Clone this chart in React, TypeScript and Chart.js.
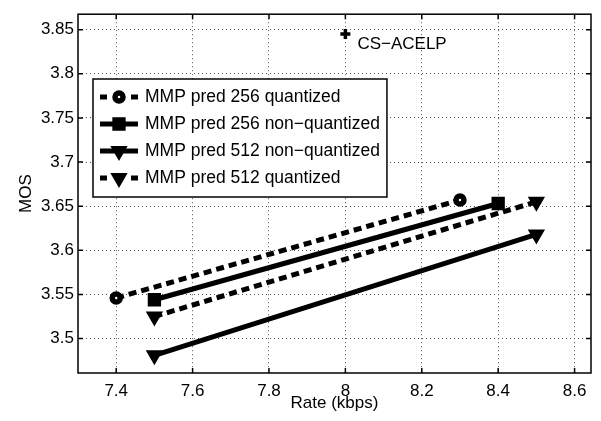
import React, { useEffect, useRef } from 'react';
import { Chart, registerables } from 'chart.js';

Chart.register(...registerables);

const FONT = "'Liberation Sans', Arial, Helvetica, sans-serif";

const xTicks = [7.4, 7.6, 7.8, 8.0, 8.2, 8.4, 8.6];
const yTicks = [3.5, 3.55, 3.6, 3.65, 3.7, 3.75, 3.8, 3.85];

const seriesLabels = [
  'MMP pred 256 quantized',
  'MMP pred 256 non\u2212quantized',
  'MMP pred 512 non\u2212quantized',
  'MMP pred 512 quantized',
];
const rate256q = [7.4, 8.3];
const mos256q = [3.546, 3.657];
const rate256n = [7.5, 8.4];
const mos256n = [3.544, 3.653];
const rate512n = [7.5, 8.5];
const mos512n = [3.481, 3.618];
const rate512q = [7.5, 8.5];
const mos512q = [3.525, 3.655];
const refRate = [8.0];
const refMos = [3.845];
const refLabel = 'CS\u2212ACELP';

type Marker = { style: string; radius: number; bw: number; bg: string; rot: number };
const circleM: Marker = { style: 'circle', radius: 4, bw: 5.5, bg: '#fff', rot: 0 };
const rectM: Marker = { style: 'rect', radius: 8, bw: 2, bg: '#000', rot: 0 };
const triM: Marker = { style: 'triangle', radius: 8, bw: 2, bg: '#000', rot: 180 };
const DASH = [8, 5];

const makeSeries = (label: string, xs: number[], ys: number[], dashed: boolean, m: Marker) => ({
  label,
  data: xs.map((x, i) => ({ x, y: ys[i] })),
  borderColor: '#000',
  backgroundColor: '#000',
  borderWidth: 5,
  borderDash: dashed ? DASH : [],
  showLine: true,
  pointStyle: m.style,
  pointRadius: m.radius,
  pointBorderWidth: m.bw,
  pointBackgroundColor: m.bg,
  pointBorderColor: '#000',
  pointRotation: m.rot,
  _marker: m,
  _dashed: dashed,
});

function drawMarker(ctx: CanvasRenderingContext2D, m: Marker, x: number, y: number) {
  ctx.save();
  ctx.setLineDash([]);
  ctx.lineWidth = m.bw;
  ctx.strokeStyle = '#000';
  ctx.fillStyle = m.bg;
  ctx.beginPath();
  if (m.style === 'circle') {
    ctx.arc(x, y, m.radius, 0, Math.PI * 2);
  } else if (m.style === 'rect') {
    const s = m.radius * Math.SQRT1_2;
    ctx.rect(x - s, y - s, 2 * s, 2 * s);
  } else {
    const r = m.radius;
    ctx.moveTo(x, y + r);
    ctx.lineTo(x - r * Math.sqrt(3) / 2, y - r / 2);
    ctx.lineTo(x + r * Math.sqrt(3) / 2, y - r / 2);
    ctx.closePath();
  }
  ctx.fill();
  ctx.stroke();
  ctx.restore();
}

const framePlugin = {
  id: 'matlabFrame',
  afterDatasetsDraw(chart: any) {
    const { ctx, chartArea, scales } = chart;
    const { left, right, top, bottom } = chartArea;
    const xs = scales.x;
    const ys = scales.y;
    ctx.save();

    // annotation label
    const px = xs.getPixelForValue(refRate[0]);
    const py = ys.getPixelForValue(refMos[0]);
    ctx.font = `17px ${FONT}`;
    ctx.fillStyle = '#000';
    ctx.textBaseline = 'middle';
    ctx.textAlign = 'left';
    ctx.fillText(refLabel, px + 12, py + 10);

    // legend
    const lgLeft = 93;
    const lgTop = 79;
    const rowH = 27;
    const textX = 145;
    const legendSets = chart.data.datasets.slice(0, 4);
    ctx.font = `17.5px ${FONT}`;
    let maxW = 0;
    legendSets.forEach((d: any) => {
      maxW = Math.max(maxW, ctx.measureText(d.label).width);
    });
    const lgRight = textX + maxW + 7;
    const lgBottom = lgTop + rowH * legendSets.length + 10;
    ctx.fillStyle = '#fff';
    ctx.fillRect(lgLeft, lgTop, lgRight - lgLeft, lgBottom - lgTop);
    ctx.strokeStyle = '#000';
    ctx.lineWidth = 1.5;
    ctx.setLineDash([]);
    ctx.strokeRect(lgLeft, lgTop, lgRight - lgLeft, lgBottom - lgTop);
    legendSets.forEach((d: any, i: number) => {
      const ry = lgTop + 18 + rowH * i;
      ctx.save();
      ctx.strokeStyle = '#000';
      ctx.lineWidth = 5;
      ctx.setLineDash([]);
      ctx.beginPath();
      if (d._dashed) {
        ctx.moveTo(100, ry);
        ctx.lineTo(107, ry);
        ctx.moveTo(131, ry);
        ctx.lineTo(138, ry);
      } else {
        ctx.moveTo(100, ry);
        ctx.lineTo(138, ry);
      }
      ctx.stroke();
      ctx.restore();
      drawMarker(ctx, d._marker, 119, ry);
      ctx.fillStyle = '#000';
      ctx.font = `17.5px ${FONT}`;
      ctx.textBaseline = 'middle';
      ctx.textAlign = 'left';
      ctx.fillText(d.label, textX, ry);
    });

    // frame
    ctx.strokeStyle = '#000';
    ctx.lineWidth = 1.5;
    ctx.setLineDash([]);
    ctx.strokeRect(left, top, right - left, bottom - top);
    ctx.beginPath();
    xTicks.forEach((v) => {
      const p = xs.getPixelForValue(v);
      ctx.moveTo(p, bottom);
      ctx.lineTo(p, bottom - 5);
      ctx.moveTo(p, top);
      ctx.lineTo(p, top + 5);
    });
    yTicks.forEach((v) => {
      const p = ys.getPixelForValue(v);
      ctx.moveTo(left, p);
      ctx.lineTo(left + 5, p);
      ctx.moveTo(right, p);
      ctx.lineTo(right - 5, p);
    });
    ctx.stroke();
    ctx.restore();
  },
};

const fmt = (v: any) => String(+(+v).toFixed(2));

export default function App() {
  const ref = useRef<HTMLCanvasElement | null>(null);
  useEffect(() => {
    if (!ref.current) return;
    const font = { family: FONT, size: 17 };
    const chart = new Chart(ref.current, {
      type: 'line',
      data: {
        datasets: [
          makeSeries(seriesLabels[0], rate256q, mos256q, true, circleM),
          makeSeries(seriesLabels[1], rate256n, mos256n, false, rectM),
          makeSeries(seriesLabels[2], rate512n, mos512n, false, triM),
          makeSeries(seriesLabels[3], rate512q, mos512q, true, triM),
          {
            label: refLabel,
            data: refRate.map((x, i) => ({ x, y: refMos[i] })),
            showLine: false,
            borderColor: '#000',
            backgroundColor: '#000',
            pointStyle: 'cross',
            pointRadius: 5,
            pointBorderWidth: 3.5,
            pointBorderColor: '#000',
          },
        ] as any,
      },
      options: {
        animation: false,
        responsive: false,
        devicePixelRatio: 1,
        layout: { padding: { left: 0, top: 6, right: 6, bottom: 0 } },
        plugins: { legend: { display: false }, tooltip: { enabled: false } },
        scales: {
          x: {
            type: 'linear',
            min: 7.3,
            max: 8.643,
            afterBuildTicks: (s: any) => {
              s.ticks = xTicks.map((v) => ({ value: v }));
            },
            afterFit: (s: any) => {
              s.height = 48;
            },
            ticks: { callback: fmt, font, color: '#000', padding: 8, maxRotation: 0, autoSkip: false },
            grid: { color: '#555', lineWidth: 1, drawTicks: false, tickLength: 0 },
            border: { display: false, dash: [1, 3] },
            title: { display: true, text: 'Rate (kbps)', font, color: '#000', padding: { top: 0, bottom: 7 } },
          },
          y: {
            type: 'linear',
            min: 3.461,
            max: 3.8675,
            afterBuildTicks: (s: any) => {
              s.ticks = yTicks.map((v) => ({ value: v }));
            },
            afterFit: (s: any) => {
              s.width = 78;
            },
            ticks: { callback: fmt, font, color: '#000', padding: 4, autoSkip: false },
            grid: { color: '#555', lineWidth: 1, drawTicks: false, tickLength: 0 },
            border: { display: false, dash: [1, 3] },
            title: { display: true, text: 'MOS', font, color: '#000', padding: { top: 16, bottom: 0 } },
          },
        },
      } as any,
      plugins: [framePlugin],
    });
    return () => chart.destroy();
  }, []);
  return (
    <div style={{ position: 'absolute', left: 0, top: 0, width: 601, height: 421, background: '#fff' }}>
      <canvas ref={ref} width={601} height={421} style={{ display: 'block' }} />
    </div>
  );
}
